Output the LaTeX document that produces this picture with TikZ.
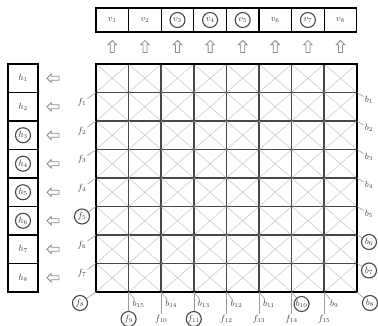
\documentclass[tikz,border=0pt]{standalone}
\usetikzlibrary{shapes.arrows, positioning}
\definecolor{cGrid} {HTML}{484848}
\definecolor{cCross}{HTML}{C4C4C4}
\definecolor{cInk}  {HTML}{3C3C3C}
\definecolor{cTick} {HTML}{9C9C9C}
\definecolor{cArrow}{HTML}{8A8A8A}

\begin{document}
\begin{tikzpicture}[x=1pt, y=-1pt,
      cell/.style  = {draw=cGrid, line width=1.6pt, minimum width=32.6pt, minimum height=28.5pt, inner sep=0pt, outer sep=0pt},
      cross/.style = {draw=cCross, line width=0.5pt, shorten <=1pt, shorten >=1pt},
      frame/.style = {draw=black, line width=2pt},
      vbox/.style  = {draw=black, line width=1.2pt, minimum width=32.6pt, minimum height=24pt, inner sep=0pt, font=\small, text=cInk},
      hbox/.style  = {draw=black, line width=1.2pt, minimum width=30pt, minimum height=28.5pt, inner sep=0pt, font=\small, text=cInk},
      ring/.style  = {circle, draw=cGrid, line width=1.1pt, minimum size=15pt, inner sep=0pt},
      lab/.style   = {inner sep=1pt, font=\small, text=cInk},
      circ/.style  = {lab, circle, draw=cGrid, line width=1.1pt, minimum size=15pt, inner sep=0pt},
      tick/.style  = {draw=cTick, line width=0.6pt},
      hollow/.style = {single arrow, draw=cArrow, line width=0.8pt, inner sep=1.6pt, minimum height=12pt, single arrow head extend=2.2pt} ]
    \useasboundingbox (0,0) rectangle (378,326);

    % the 8x8 array
    \foreach \i in {1,...,8}
      \foreach \j in {1,...,8} {
        \node[cell] (g-\i-\j) at ({96+(\j-0.5)*32.6}, {64+(\i-0.5)*28.5}) {};
        \draw[cross] (g-\i-\j.north west) -- (g-\i-\j.south east)
                     (g-\i-\j.north east) -- (g-\i-\j.south west);
      }
    \draw[frame] (g-1-1.north west) rectangle (g-8-8.south east);

    % v row on top
    \foreach \j in {1,...,8} {
      \node[vbox] (v\j) at ({96+(\j-0.5)*32.6}, 20) {$v_{\j}$};
      \node[hollow, shape border rotate=90] (u\j) at ({96+(\j-0.5)*32.6}, 47.5) {};
    }
    \foreach \j in {3,4,5,7} \node[ring] (rv\j) at (v\j) {};

    % h column on the left
    \foreach \i in {1,...,8} {
      \node[hbox] (h\i) at (23, {64+(\i-0.5)*28.5}) {$h_{\i}$};
      \node[hollow, shape border rotate=180] (l\i) at (54, {64+(\i-0.5)*28.5}) {};
    }
    \foreach \i in {3,4,5,6} \node[ring] (rh\i) at (h\i) {};

    % f labels, left side
    \foreach \i/\st in {1/lab,2/lab,3/lab,4/lab,5/circ,6/lab,7/lab} {
      \node[\st] (f\i) at (82, {64+\i*28.5+10}) {$f_{\i}$};
      \draw[tick] (f\i) -- (g-\i-1.south west);
    }
    \node[circ] (f8) at (80,303) {$f_8$};
    \draw[tick] (f8) -- (g-8-1.south west);

    % b labels, right side
    \foreach \i/\st in {1/lab,2/lab,3/lab,4/lab,5/lab,6/circ,7/circ} {
      \node[\st] (b\i) at (369, {64+\i*28.5+7}) {$b_{\i}$};
      \draw[tick] (g-\i-8.south east) -- (b\i);
    }
    \node[circ] (b8) at (370,303) {$b_8$};
    \draw[tick] (g-8-8.south east) -- (b8);

    % labels under the array
    \foreach \k/\fs/\bs in {1/circ/lab,2/lab/lab,3/circ/lab,4/lab/lab,5/lab/lab,6/lab/circ,7/lab/lab} {
      \pgfmathtruncatemacro\fk{8+\k}
      \pgfmathtruncatemacro\bk{16-\k}
      \node[\fs] (f\fk) at ({96+\k*32.6}, 319) {$f_{\fk}$};
      \node[\bs] (b\bk) at ({106+\k*32.6}, 304) {$b_{\bk}$};
      \draw[tick] (g-8-\k.south east) -- (f\fk);
      \draw[tick] (g-8-\k.south east) -- (b\bk);
    }
  \end{tikzpicture}
\end{document}
